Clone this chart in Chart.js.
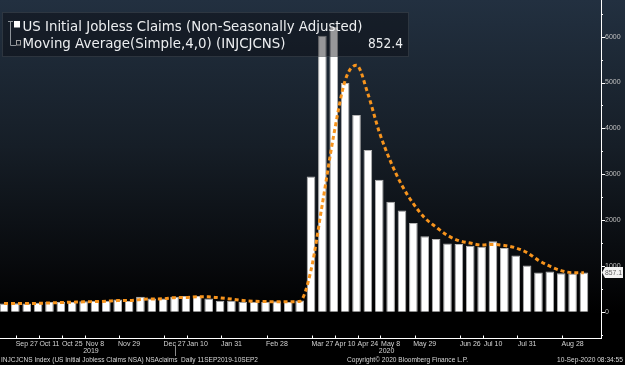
<!DOCTYPE html>
<html>
<head>
<meta charset="utf-8">
<script src="https://cdn.jsdelivr.net/npm/chart.js@4.4.1/dist/chart.umd.min.js"></script>
<style>
html, body { margin: 0; padding: 0; background: #000; }
#wrap { width: 625px; height: 365px; }
</style>
</head>
<body>
<div id="wrap"><canvas id="claimsChart" width="625" height="365"></canvas></div>
<script>
// weekly observations (Fridays), Sep 2019 - Sep 2020
const weeks = ['Sep 13', 'Sep 20', 'Sep 27', 'Oct 4', 'Oct 11', 'Oct 18', 'Oct 25', 'Nov 1', 'Nov 8', 'Nov 15',
    'Nov 22', 'Nov 29', 'Dec 6', 'Dec 13', 'Dec 20', 'Dec 27', 'Jan 3', 'Jan 10', 'Jan 17', 'Jan 24',
    'Jan 31', 'Feb 7', 'Feb 14', 'Feb 21', 'Feb 28', 'Mar 6', 'Mar 13', 'Mar 20', 'Mar 27', 'Apr 3',
    'Apr 10', 'Apr 17', 'Apr 24', 'May 1', 'May 8', 'May 15', 'May 22', 'May 29', 'Jun 5', 'Jun 12',
    'Jun 19', 'Jun 26', 'Jul 3', 'Jul 10', 'Jul 17', 'Jul 24', 'Jul 31', 'Aug 7', 'Aug 14', 'Aug 21',
    'Aug 28', 'Sep 4'];

// initial claims, NSA, thousands
const claims = [180, 185, 180, 200, 215, 215, 215, 230, 240, 240,
    270, 235, 330, 290, 290, 330, 345, 345, 290, 240,
    240, 220, 218, 218, 232, 215, 245, 2950, 6020, 6210,
    4990, 4290, 3530, 2880, 2400, 2210, 1940, 1650, 1590, 1490,
    1480, 1440, 1420, 1540, 1390, 1230, 1010, 860, 880, 840,
    835, 857.1];

// 4 week simple moving average as plotted, thousands
const movingAvg = [180, 180, 181, 186, 195, 203, 211, 219, 225, 231,
    245, 246, 269, 281, 286, 310, 314, 328, 328, 305,
    279, 248, 230, 224, 222, 221, 228, 910, 2358, 3856,
    5043, 5378, 4755, 3923, 3275, 2755, 2358, 2050, 1848, 1668,
    1553, 1500, 1458, 1470, 1448, 1395, 1293, 1123, 995, 898,
    854, 852.4];

const shownTicks = ['Sep 27', 'Oct 11', 'Oct 25', 'Nov 8', 'Nov 29', 'Dec 27', 'Jan 10', 'Jan 31', 'Feb 28',
    'Mar 27', 'Apr 10', 'Apr 24', 'May 8', 'May 29', 'Jun 26', 'Jul 10', 'Jul 31', 'Aug 28'];
const yearLabels = [['2019', 'Nov 8'], ['2020', 'May 8']];
const yearBreak = 'Dec 27';
const yTicks = [0, 1000, 2000, 3000, 4000, 5000, 6000];

const lastClaim = '857.1';
const lastAvg = '852.4';

Chart.defaults.font.family = '"Liberation Sans", Arial, sans-serif';

// draw text squeezed/stretched to a given width
function fitText(ctx, text, x, y, w) {
    const m = ctx.measureText(text).width;
    ctx.save();
    ctx.translate(x, y);
    ctx.scale(w / m, 1);
    ctx.fillText(text, 0, 0);
    ctx.restore();
}

const bgPlugin = {
    id: 'bbgBackground',
    beforeDraw(chart) {
        const { ctx, width, height } = chart;
        const g = ctx.createLinearGradient(0, 0, 0, height);
        g.addColorStop(0, '#223040');
        g.addColorStop(0.4, '#161e27');
        g.addColorStop(0.72, '#080a0d');
        g.addColorStop(0.86, '#000000');
        g.addColorStop(1, '#000000');
        ctx.save();
        ctx.fillStyle = g;
        ctx.fillRect(0, 0, width, height);
        ctx.restore();
    }
};

const overlayPlugin = {
    id: 'bbgOverlay',
    afterDatasetsDraw(chart) {
        const ctx = chart.ctx;
        // legend box, see-through
        ctx.save();
        ctx.fillStyle = 'rgba(6, 8, 11, 0.42)';
        ctx.fillRect(2, 12, 407, 45);
        ctx.strokeStyle = 'rgba(120, 130, 140, 0.25)';
        ctx.lineWidth = 1;
        ctx.strokeRect(2.5, 12.5, 406, 44);

        // tree connector + icons
        ctx.strokeStyle = '#8e949a';
        ctx.beginPath();
        ctx.moveTo(8, 21.5); ctx.lineTo(13, 21.5);
        ctx.moveTo(10.5, 21.5); ctx.lineTo(10.5, 45.5);
        ctx.lineTo(16, 45.5);
        ctx.stroke();
        ctx.fillStyle = '#ffffff';
        ctx.fillRect(14, 21, 6, 6.5);
        ctx.strokeStyle = '#a0a0a0';
        ctx.strokeRect(16.5, 40.5, 4, 4.5);

        ctx.fillStyle = '#eceef0';
        ctx.font = '14.5px "DejaVu Sans"';
        ctx.textBaseline = 'alphabetic';
        ctx.textAlign = 'left';
        fitText(ctx, 'US Initial Jobless Claims (Non-Seasonally Adjusted)', 22.5, 31, 340);
        fitText(ctx, 'Moving Average(Simple,4,0) (INJCJCNS)', 22.5, 47.5, 263);
        fitText(ctx, lastAvg, 368, 47.5, 35);
        ctx.restore();
    },
    afterDraw(chart) {
        const ctx = chart.ctx;
        const x = chart.scales.x;
        const y = chart.scales.y;
        const area = chart.chartArea;
        ctx.save();

        // y tick marks, major and minor
        ctx.strokeStyle = '#ffffff';
        ctx.lineWidth = 1;
        for (let v = -500; v <= 6500; v += 500) {
            const py = Math.round(y.getPixelForValue(v)) + 0.5;
            ctx.beginPath();
            ctx.moveTo(area.right, py);
            ctx.lineTo(area.right + (v % 1000 === 0 ? 4 : 2), py);
            ctx.stroke();
        }

        // x tick marks
        shownTicks.forEach(t => {
            const px = Math.round(x.getPixelForValue(weeks.indexOf(t) - 0.9)) + 0.5;
            ctx.beginPath();
            ctx.moveTo(px, area.bottom);
            ctx.lineTo(px, area.bottom - 2.5);
            ctx.stroke();
        });

        // year row
        ctx.fillStyle = '#d4d4d4';
        ctx.font = '7px "Liberation Sans"';
        ctx.textAlign = 'center';
        ctx.textBaseline = 'middle';
        yearLabels.forEach(([yr, at]) => {
            ctx.fillText(yr, x.getPixelForValue(weeks.indexOf(at)) - 4, 351.5);
        });
        const bx = Math.round(x.getPixelForValue(weeks.indexOf(yearBreak))) + 0.5;
        ctx.strokeStyle = '#8a8a8a';
        ctx.beginPath();
        ctx.moveTo(bx, 346);
        ctx.lineTo(bx, 356);
        ctx.stroke();

        // footer
        ctx.fillStyle = '#d8d8d8';
        ctx.textAlign = 'left';
        ctx.textBaseline = 'alphabetic';
        ctx.font = '7px "Liberation Sans"';
        fitText(ctx, 'INJCJCNS Index (US Initial Jobless Claims NSA) NSAclaims  Daily 11SEP2019-10SEP2', 1, 362, 257);
        fitText(ctx, 'Copyright\u00a9 2020 Bloomberg Finance L.P.', 347, 362, 121);
        fitText(ctx, '10-Sep-2020 08:34:55', 557, 362, 66);

        // last value tag on the axis
        const ty = y.getPixelForValue(parseFloat(lastClaim));
        ctx.fillStyle = '#f2f2f2';
        ctx.beginPath();
        ctx.moveTo(area.right + 1, ty);
        ctx.lineTo(area.right + 4, ty - 5.5);
        ctx.lineTo(623, ty - 5.5);
        ctx.lineTo(623, ty + 5.5);
        ctx.lineTo(area.right + 4, ty + 5.5);
        ctx.closePath();
        ctx.fill();
        ctx.fillStyle = '#5a5a5a';
        ctx.font = '8px "Liberation Sans"';
        ctx.textBaseline = 'middle';
        fitText(ctx, lastClaim, 605, ty + 0.5, 17);
        ctx.restore();
    }
};

new Chart(document.getElementById('claimsChart'), {
    type: 'bar',
    data: {
        datasets: [{
            type: 'line',
            label: 'Moving Average(Simple,4,0) (INJCJCNS)',
            data: movingAvg.map((v, i) => ({ x: i, y: v })),
            borderColor: '#f7941d',
            borderWidth: 3,
            borderDash: [4, 3],
            pointRadius: 0,
            cubicInterpolationMode: 'monotone',
            order: 0
        }, {
            type: 'bar',
            label: 'US Initial Jobless Claims (Non-Seasonally Adjusted)',
            data: claims.map((v, i) => ({ x: i, y: v })),
            backgroundColor: '#ffffff',
            borderColor: '#b4b4b4',
            borderWidth: 1,
            barPercentage: 0.76,
            categoryPercentage: 1,
            order: 1
        }]
    },
    options: {
        responsive: false,
        animation: false,
        layout: { padding: 0 },
        plugins: {
            legend: { display: false },
            tooltip: { enabled: false }
        },
        scales: {
            x: {
                type: 'linear',
                offset: false,
                min: -0.35,
                max: 52.5,
                grid: { display: false, drawTicks: false },
                border: { color: '#ffffff', width: 1 },
                afterBuildTicks: s => { s.ticks = shownTicks.map(t => ({ value: weeks.indexOf(t) })); },
                afterFit: s => { s.height = 27; s.paddingLeft = 0; s.paddingRight = 0; },
                ticks: {
                    autoSkip: false,
                    maxRotation: 0,
                    padding: 2,
                    color: '#d4d4d4',
                    font: { size: 7 },
                    callback: v => weeks[v]
                }
            },
            y: {
                position: 'right',
                min: -570,
                max: 6800,
                grid: { display: false, drawTicks: false },
                border: { color: '#ffffff', width: 1 },
                afterBuildTicks: s => { s.ticks = yTicks.map(v => ({ value: v })); },
                afterFit: s => { s.width = 24; s.paddingTop = 0; s.paddingBottom = 0; },
                ticks: {
                    padding: 4,
                    color: '#c0c0c0',
                    font: { size: 7 },
                    callback: v => String(v)
                }
            }
        }
    },
    plugins: [bgPlugin, overlayPlugin]
});
</script>
</body>
</html>
